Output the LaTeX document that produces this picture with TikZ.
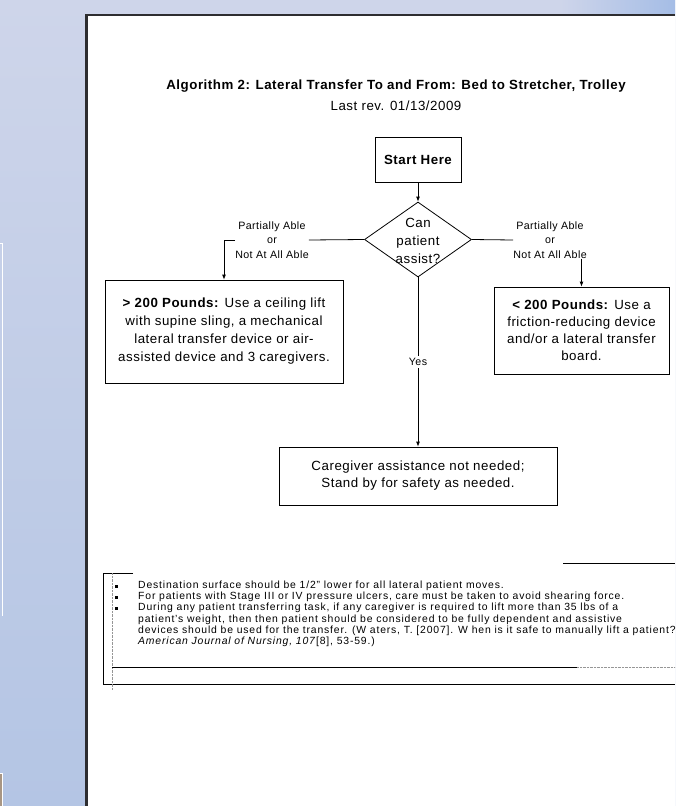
\documentclass[tikz,border=0pt]{standalone}
\usepackage{fontspec}
\setmainfont{Liberation Sans}[LetterSpace=4]
\usetikzlibrary{shapes.geometric,arrows.meta,calc}
\definecolor{lavtop}{RGB}{206,213,234}
\definecolor{lavbot}{RGB}{180,197,228}
\definecolor{skyedge}{RGB}{165,189,230}
\definecolor{pageline}{RGB}{45,45,48}
\definecolor{noteline}{RGB}{150,150,150}
\definecolor{tanfill}{RGB}{168,150,132}
\newcommand{\bigtext}{\fontsize{13.3}{18}\selectfont}
\newcommand{\smalltext}{\fontsize{10.67}{14.5}\selectfont}
\newcommand{\notetext}{\fontsize{10.4}{11.2}\selectfont\addfontfeatures{LetterSpace=8}}
\tikzset{
  flowbox/.style={draw, line width=0.8pt, align=center, inner sep=0pt, font=\bigtext},
  decision/.style={diamond, draw, line width=0.8pt, inner sep=0pt,
    minimum width=107pt, minimum height=75pt, font=\bigtext},
  branch/.style={align=center, inner sep=0pt, font=\smalltext},
  flowarrow/.style={-{Latex[length=5pt,width=4pt]}, line width=0.8pt},
  flowline/.style={line width=0.8pt},
  bulletmark/.style={fill, inner sep=0pt, minimum size=3pt},
  notebody/.style={anchor=base west, align=left, inner sep=0pt, font=\notetext},
}

\begin{document}
\begin{tikzpicture}[x=1pt, y=-1pt]
  % backdrop and page
  \clip (0,0) rectangle (675,806);
  \shade[top color=lavtop, bottom color=lavbot] (0,0) rectangle (675,806);
  \shade[left color=lavtop, right color=skyedge] (560,0) rectangle (675,15);
  \fill[white] (86,15) rectangle (675,806);
  \draw[pageline, line width=1.6pt] (86,15) -- (675,15);
  \draw[pageline, line width=3pt] (86,14.2) -- (86,806);
  \draw[white, line width=1pt] (0,243) -- (2,243) -- (2,616);
  \fill[tanfill] (0,773) rectangle (2,806);
  \draw[white, line width=1pt] (0,773) -- (2.5,773) -- (2.5,806);

  % heading
  \node[font=\bfseries\bigtext] (title) at (396,86)
    {Algorithm 2: Lateral Transfer To and From: Bed to Stretcher, Trolley};
  \node[font=\bigtext] (rev) at (396,106) {Last rev. 01/13/2009};

  % flow chart
  \node[flowbox, minimum width=86pt, minimum height=45pt, font=\bfseries\bigtext]
    (start) at (418,159.5) {Start Here};
  \node[decision] (assist) at (418,239.5)
    {\smash{\raisebox{-6pt}{\begin{tabular}{@{}c@{}}Can\\patient\\assist?\end{tabular}}}};
  \node[branch] (leftcase) at (272,240) {Partially Able\\or\\Not At All Able};
  \node[branch] (rightcase) at (550,240) {Partially Able\\or\\Not At All Able};
  \node[flowbox, minimum width=238pt, minimum height=103pt] (heavy) at (224,331.5)
    {\textbf{> 200 Pounds:} Use a ceiling lift\\with supine sling, a mechanical\\lateral transfer device or air-\\assisted device and 3 caregivers.};
  \node[flowbox, minimum width=175pt, minimum height=87pt, font=\fontsize{13.3}{17}\selectfont]
    (light) at (581.5,330.5)
    {\textbf{< 200 Pounds:} Use a\\friction-reducing device\\and/or a lateral transfer\\board.};
  \node[flowbox, minimum width=278pt, minimum height=58pt, font=\fontsize{13.3}{17}\selectfont]
    (care) at (418,476) {Caregiver assistance not needed;\\Stand by for safety as needed.};

  \draw[flowarrow] (start) -- (assist);
  \draw[flowline] (assist.west) -- (leftcase.east);
  \draw[flowarrow] (leftcase.west) -| (heavy.north);
  \draw[flowline] (assist.east) -- (rightcase.west);
  \draw[flowarrow] (rightcase.south -| light.north) -- (light.north);
  \draw[flowarrow] (assist) -- node[fill=white, font=\smalltext, inner sep=2pt] (yes) {Yes} (care);

  % notes
  \draw[line width=0.8pt] (133,573) -- (103,573) -- (103,684) -- (675,684);
  \draw[line width=0.8pt] (563,563) -- (675,563);
  \draw[noteline, densely dotted] (112,573) -- (112,690);
  \draw[line width=0.8pt] (112,667) -- (577,667);
  \draw[noteline, densely dotted] (577,667) -- (675,667);
  \node[bulletmark] (dot1) at (116,586) {};
  \node[bulletmark] (dot2) at (116,597.2) {};
  \node[bulletmark] (dot3) at (116,608.4) {};
  \node[notebody] (note1) at (138,588.5)
    {Destination surface should be 1/2" lower for all lateral patient moves.};
  \node[notebody] (note2) at (138,599.7)
    {For patients with Stage III or IV pressure ulcers, care must be taken to avoid shearing force.};
  \node[notebody] (note3) at (138,644.5)
    {During any patient transferring task, if any caregiver is required to lift more than 35 lbs of a\\
     patient's weight, then then patient should be considered to be fully dependent and assistive\\
     devices should be used for the transfer. (W aters, T. [2007]. W hen is it safe to manually lift a patient?\\
     \textit{American Journal of Nursing, 107}[8], 53-59.)};
\end{tikzpicture}
\end{document}
